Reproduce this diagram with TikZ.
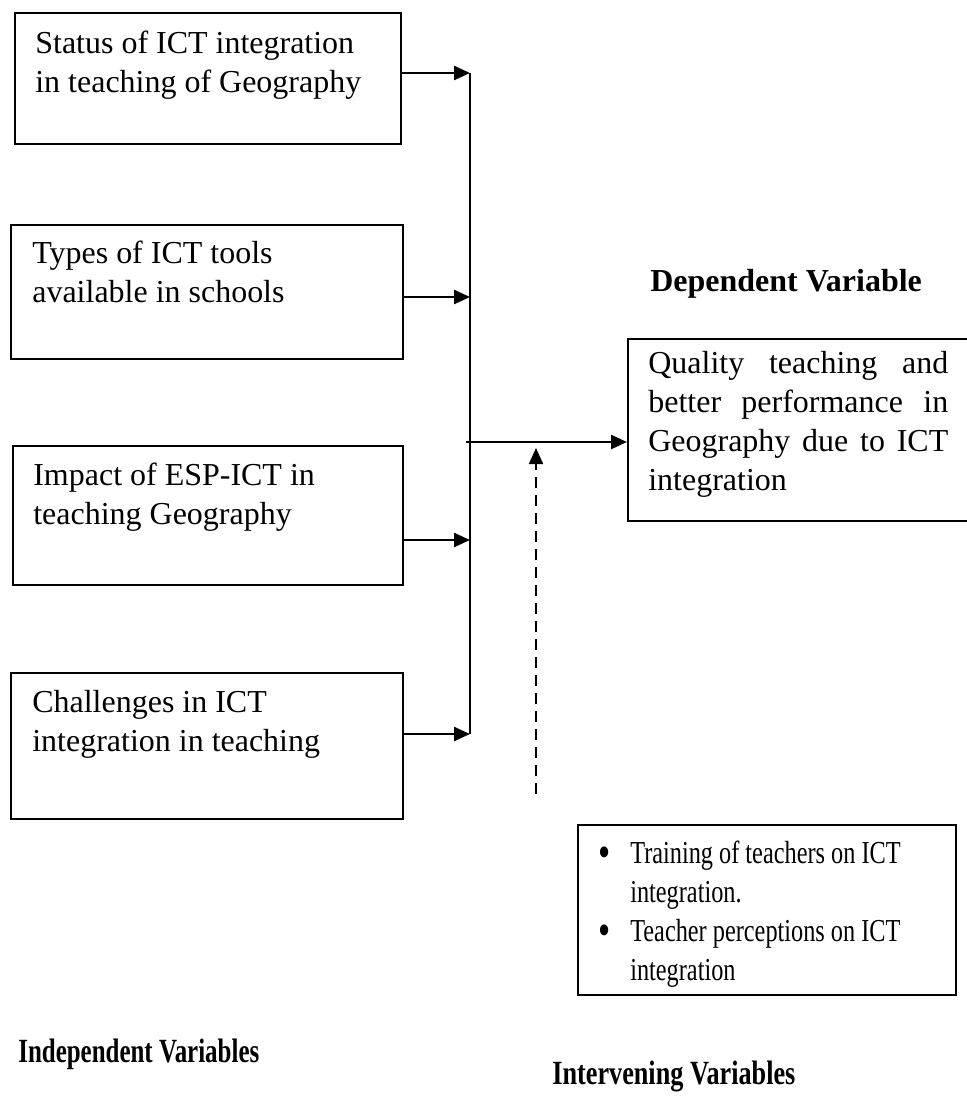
\documentclass[tikz,border=0pt]{standalone}
\usepackage{fontspec}
\usepackage{graphicx}
\setmainfont{Liberation Serif}
\usetikzlibrary{arrows.meta, positioning}
\tikzset{
  box/.style  = {rectangle, draw=black, line width=1.1pt, anchor=north west,
                 inner sep=0pt},
  txt/.style  = {align=left, inner sep=0pt, anchor=north west,
                 font=\fontsize{18.2pt}{22.2pt}\selectfont},
  ttl/.style  = {inner sep=0pt, anchor=base west,
                 font=\fontsize{18.2pt}{22.2pt}\selectfont\bfseries},
  arr/.style  = {-{Triangle[length=3.2mm, width=2.8mm]}, line width=1.4pt},
  darr/.style = {arr, line width=1.1pt, dash pattern=on 2.2mm off 1.4mm},
}
% squeezed text of the lower part
\newcommand{\narrow}[1]{\scalebox{0.76}[1]{#1}}
\newcommand{\bigdot}{\raisebox{-2.4pt}{\fontsize{26pt}{22.2pt}\selectfont\textbullet}}

\begin{document}
\begin{tikzpicture}[x=0.02cm, y=-0.02cm]
  \useasboundingbox (0,0) rectangle (967,1100);

  % independent variables
  \node[box, minimum width=7.72cm, minimum height=2.62cm] (b1) at (14,12) {};
  \node[txt, below right=0.38cm and 0.42cm of b1.north west] (t1)
    {Status of ICT integration\\in teaching of Geography};

  \node[box, minimum width=7.84cm, minimum height=2.68cm] (b2) at (10,224) {};
  \node[txt, below right=0.34cm and 0.44cm of b2.north west] (t2)
    {Types of ICT tools\\available in schools};

  \node[box, minimum width=7.8cm, minimum height=2.78cm] (b3) at (12,445) {};
  \node[txt, below right=0.36cm and 0.42cm of b3.north west] (t3)
    {Impact of ESP-ICT in\\teaching Geography};

  \node[box, minimum width=7.84cm, minimum height=2.92cm] (b4) at (10,672) {};
  \node[txt, below right=0.36cm and 0.44cm of b4.north west] (t4)
    {Challenges in ICT\\integration in teaching};

  % collecting line
  \coordinate (s1) at (470,73);
  \coordinate (s2) at (470,297);
  \coordinate (s3) at (470,540);
  \coordinate (s4) at (470,734);
  \draw[line width=1.4pt] (s1) -- (s4);
  \draw[arr] (b1.east |- s1) -- (s1);
  \draw[arr] (b2.east |- s2) -- (s2);
  \draw[arr] (b3.east |- s3) -- (s3);
  \draw[arr] (b4.east |- s4) -- (s4);

  % dependent variable
  \node[ttl] (depl) at (650,291) {Dependent Variable};
  \node[box, minimum width=7cm, minimum height=3.64cm] (dep) at (627,338) {};
  \node[txt, align=justify, text width=6cm,
        below right=0.26cm and 0.42cm of dep.north west] (tdep)
    {Quality teaching and\linebreak better performance in\linebreak
     Geography due to ICT integration};

  \coordinate (hub) at (466,442);
  \draw[arr] (hub) -- (dep.west |- hub);

  % intervening variables
  \node[box, minimum width=7.56cm, minimum height=3.4cm] (iv) at (577,824) {};
  \node[txt, below right=0.24cm and 0.42cm of iv.north west] (tiv)
    {\narrow{\begin{tabular}{@{}p{0.84cm}@{}l@{}}
       \bigdot & Training of teachers on ICT\\
               & integration.\\
       \bigdot & Teacher perceptions on ICT\\
               & integration
     \end{tabular}}};

  \coordinate (dsh) at (536,794);
  \draw[darr] (dsh) -- (dsh |- 0,448);

  % captions
  \node[ttl] (indl) at (18,1062) {\scalebox{0.78}[1.06]{Independent Variables}};
  \node[ttl] (intl) at (552,1084) {\scalebox{0.82}[1.06]{Intervening Variables}};
\end{tikzpicture}
\end{document}
